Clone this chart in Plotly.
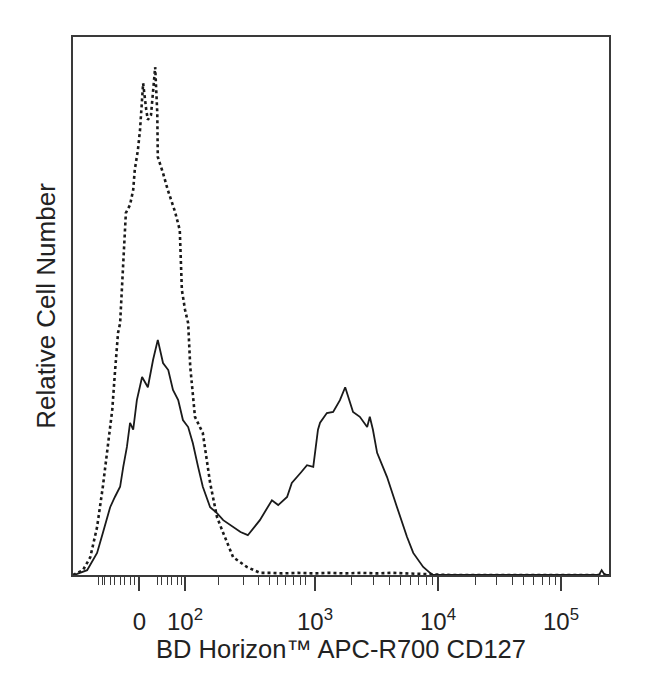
import plotly.graph_objects as go

# Histogram data: x in display channels (0-1024 biexponential scale), y in relative counts (0-100)
solid_x = [0, 8, 27, 46, 57, 71, 80, 90, 96, 103, 109, 115, 122, 132, 143, 153, 162, 172, 182,
           191, 201, 210, 220, 229, 239, 248, 262, 275, 287, 306, 320, 334, 357, 380, 392, 409,
           418, 435, 447, 459, 468, 472, 485, 497, 510, 520, 535, 548, 562, 567, 573, 581, 600,
           619, 638, 650, 669, 682, 688, 800, 1005, 1010, 1014, 1018, 1024]
solid_y = [0, 0.2, 0.9, 4.1, 7.8, 12.6, 14.5, 16.4, 20.1, 23.8, 28.3, 27.0, 32.5, 36.8, 34.9,
           40.0, 43.7, 39.4, 38.1, 34.4, 32.5, 28.8, 27.5, 24.5, 20.1, 16.4, 12.6, 11.5, 10.2,
           8.9, 8.0, 7.4, 10.2, 13.9, 13.0, 14.5, 17.1, 19.0, 20.4, 20.1, 27.0, 28.3, 30.1, 30.3,
           32.5, 34.9, 30.3, 29.4, 27.5, 29.4, 27.0, 22.7, 18.2, 12.6, 7.1, 4.1, 1.5, 0.4, 0,
           0, 0, 0.9, 0.3, 0, 0]

dashed_x = [0, 10, 19, 33, 46, 57, 67, 75, 80, 86, 90, 96, 101, 109, 115, 118, 124, 128, 130,
            132, 134, 140, 143, 149, 153, 157, 161, 162, 172, 181, 195, 204, 208, 214, 220,
            224, 233, 248, 262, 275, 287, 306, 332, 357, 380, 400, 430, 460, 490, 520, 550,
            580, 610, 640, 670, 700, 720, 1024]
dashed_y = [0, 0.4, 0.9, 3.3, 8.9, 16.4, 23.8, 30.7, 37.5, 45.0, 46.8, 56.7, 67.3, 68.8, 71.6,
            75.3, 79.0, 82.7, 86.4, 90.1, 91.4, 86.4, 84.6, 85.5, 90.1, 94.4, 85.9, 77.7, 74.7,
            71.6, 67.5, 64.1, 53.0, 49.3, 46.8, 38.7, 29.4, 26.4, 17.1, 10.8, 7.8, 3.3, 1.5,
            0.4, 0.4, 0.3, 0.4, 0.3, 0.4, 0.3, 0.4, 0.3, 0.4, 0.3, 0.3, 0.2, 0, 0]

# Axis ticks (display channel positions) and labels
major_tick_vals = [126.7, 214.0, 462.3, 697.3, 932.3]
major_tick_text = ["0", "10<sup>2</sup>", "10<sup>3</sup>", "10<sup>4</sup>", "10<sup>5</sup>"]
minor_tick_vals = [47.8, 55.4, 61.1, 70.7, 80.2, 89.8, 99.3, 108.9, 118.4,
                   160.5, 170.0, 179.6, 189.1, 198.7, 208.2,
                   278.9, 324.8, 355.3, 376.3, 391.6, 406.9, 420.3, 433.7, 445.1,
                   533.0, 574.4, 603.8, 626.5, 645.2, 661.0, 674.6, 686.6,
                   768.0, 809.4, 838.8, 861.5, 880.2, 896.0, 909.6, 921.6,
                   1003.0]

x_title = "BD Horizon™ APC-R700 CD127"
y_title = "Relative Cell Number"

fig = go.Figure()
fig.add_trace(go.Scatter(x=dashed_x, y=dashed_y, mode="lines",
                         line=dict(color="#1a1a1a", width=2.6, dash="3px,3px"),
                         showlegend=False, hoverinfo="skip"))
fig.add_trace(go.Scatter(x=solid_x, y=solid_y, mode="lines",
                         line=dict(color="#1a1a1a", width=1.8),
                         showlegend=False, hoverinfo="skip"))

axis_color = "#3a3a3a"
fig.update_layout(
    width=650, height=693,
    margin=dict(l=65, r=49, t=29, b=126),
    paper_bgcolor="white", plot_bgcolor="white",
    font=dict(family="Liberation Sans, Arial, sans-serif", color="#222222"),
    xaxis=dict(
        range=[0, 1024], showgrid=False, zeroline=False,
        showline=True, linecolor=axis_color, linewidth=2, mirror=True,
        tickmode="array", tickvals=major_tick_vals, ticktext=major_tick_text,
        ticks="outside", ticklen=14, tickwidth=1.6, tickcolor=axis_color,
        tickfont=dict(size=24), ticklabelstandoff=10,
        minor=dict(tickmode="array", tickvals=minor_tick_vals, ticks="outside",
                   ticklen=8, tickwidth=1.3, tickcolor=axis_color, showgrid=False),
        title=dict(text=x_title, font=dict(size=25.5), standoff=0),
    ),
    yaxis=dict(
        range=[0, 100], showgrid=False, zeroline=False,
        showline=True, linecolor=axis_color, linewidth=2, mirror=True,
        showticklabels=False, ticks="",
        title=dict(text=y_title, font=dict(size=26), standoff=8),
    ),
)

fig.write_html("out.html")
